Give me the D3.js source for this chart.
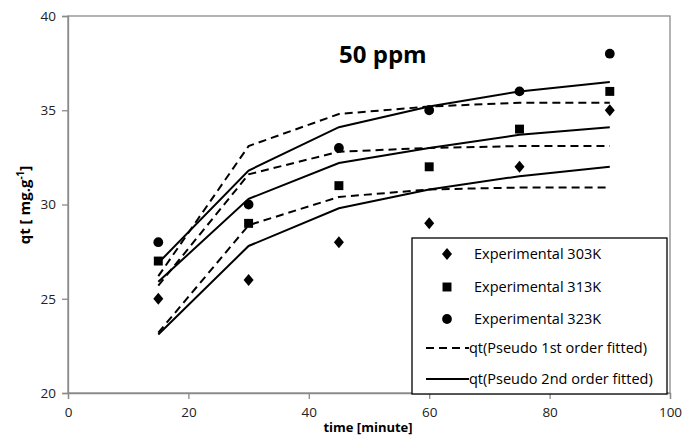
<!DOCTYPE html>
<html>
<head>
<meta charset="utf-8">
<script src="https://cdn.jsdelivr.net/npm/d3@7"></script>
<style>
  body { margin: 0; background: #fff; }
  svg text { font-family: "Open Sans", "Liberation Sans", sans-serif; }
</style>
</head>
<body>
<div id="graph"></div>
<script>
var times = [15, 30, 45, 60, 75, 90];

// experimental points
var exp303 = [25, 26, 28, 29, 32, 35];
var exp313 = [27, 29, 31, 32, 34, 36];
var exp323 = [28, 30, 33, 35, 36, 38];

// pseudo 1st order fitted (dashed)
var pfo303 = [23.2, 28.9, 30.4, 30.8, 30.9, 30.9];
var pfo313 = [25.7, 31.6, 32.8, 33.0, 33.1, 33.1];
var pfo323 = [26.2, 33.1, 34.8, 35.2, 35.4, 35.4];

// pseudo 2nd order fitted (solid)
var pso303 = [23.1, 27.8, 29.8, 30.8, 31.5, 32.0];
var pso313 = [25.9, 30.3, 32.2, 33.0, 33.7, 34.1];
var pso323 = [26.9, 31.8, 34.1, 35.2, 36.0, 36.5];

var xTicks = [0, 20, 40, 60, 80, 100];
var yTicks = [20, 25, 30, 35, 40];

var legendLabels = ["Experimental 303K", "Experimental 313K", "Experimental 323K",
  "qt(Pseudo 1st order fitted)", "qt(Pseudo 2nd order fitted)"];

var W = 699, H = 435;
var m = {left: 68, right: 29, top: 16, bottom: 42};
var w = W - m.left - m.right;
var h = H - m.top - m.bottom;

var svg = d3.select("#graph").append("svg")
  .attr("width", W)
  .attr("height", H);

var g = svg.append("g")
  .attr("transform", "translate(" + m.left + "," + m.top + ")");

var x = d3.scaleLinear().domain([0, 100]).range([0, w]);
var y = d3.scaleLinear().domain([20, 40]).range([h, 0]);

var axisColor = "#8a8a8a";

// frame (top and right)
g.append("rect")
  .attr("x", 0).attr("y", 0).attr("width", w).attr("height", h)
  .attr("fill", "none").attr("stroke", axisColor).attr("stroke-width", 1.3);

var xAxis = d3.axisBottom(x).tickValues(xTicks).tickSize(6).tickPadding(8);
var gx = g.append("g")
  .attr("class", "x axis")
  .attr("transform", "translate(0," + h + ")")
  .call(xAxis);

var yAxis = d3.axisLeft(y).tickValues(yTicks).tickSize(6).tickPadding(6);
var gy = g.append("g")
  .attr("class", "y axis")
  .call(yAxis);

[gx, gy].forEach(function(a) {
  a.select(".domain").attr("stroke", axisColor).attr("stroke-width", 1.3);
  a.selectAll(".tick line").attr("stroke", axisColor).attr("stroke-width", 1.3);
  a.selectAll(".tick text")
    .attr("fill", "#222")
    .style("font-size", "13.5px")
    .style("font-family", "'Open Sans', sans-serif");
});

var line = d3.line()
  .x(function(d, i) { return x(times[i]); })
  .y(function(d) { return y(d); });

[pfo303, pfo313, pfo323].forEach(function(s) {
  g.append("path")
    .attr("d", line(s))
    .attr("fill", "none")
    .attr("stroke", "#000")
    .attr("stroke-width", 2)
    .attr("stroke-dasharray", "8,5");
});

[pso303, pso313, pso323].forEach(function(s) {
  g.append("path")
    .attr("d", line(s))
    .attr("fill", "none")
    .attr("stroke", "#000")
    .attr("stroke-width", 2);
});

// diamond a bit wider than d3's default
var diamond = "M0,-6L5,0L0,6L-5,0Z";
var symSquare = d3.symbol().type(d3.symbolSquare).size(80);
var symCircle = d3.symbol().type(d3.symbolCircle).size(75);

function drawPoints(vals, sym) {
  g.selectAll(null)
    .data(vals)
    .enter().append("path")
    .attr("d", sym)
    .attr("fill", "#000")
    .attr("transform", function(d, i) {
      return "translate(" + x(times[i]) + "," + y(d) + ")";
    });
}
drawPoints(exp303, diamond);
drawPoints(exp313, symSquare);
drawPoints(exp323, symCircle);

// title
g.append("text")
  .attr("x", x(52.3))
  .attr("y", 47)
  .attr("text-anchor", "middle")
  .style("font-size", "24px")
  .style("font-weight", "bold")
  .style("font-family", "'Open Sans', sans-serif")
  .text("50 ppm");

// legend
var lg = svg.append("g").attr("transform", "translate(412,238)");
lg.append("rect")
  .attr("width", 255).attr("height", 156)
  .attr("fill", "#fff").attr("stroke", "#000").attr("stroke-width", 1.3);

var rowY = [16, 49, 81, 110, 141];
var legSyms = [diamond, symSquare, symCircle];
legendLabels.forEach(function(t, i) {
  if (i < 3) {
    lg.append("path")
      .attr("d", legSyms[i])
      .attr("fill", "#000")
      .attr("transform", "translate(35," + rowY[i] + ")");
  } else {
    lg.append("line")
      .attr("x1", 14).attr("x2", 57)
      .attr("y1", rowY[i]).attr("y2", rowY[i])
      .attr("stroke", "#000").attr("stroke-width", 2)
      .attr("stroke-dasharray", i == 3 ? "8,5" : null);
  }
  lg.append("text")
    .attr("x", i < 3 ? 62 : 57)
    .attr("y", rowY[i] + 5)
    .style("font-size", "14.5px")
    .style("font-family", "'Open Sans', sans-serif")
    .text(t);
});

// axis labels
svg.append("text")
  .attr("transform", "translate(30,205) rotate(-90)")
  .attr("text-anchor", "middle")
  .style("font-size", "15px")
  .style("font-weight", "bold")
  .style("font-family", "'Open Sans', sans-serif")
  .html("qt [ mg.g<tspan dy='-6' font-size='10px'>-1</tspan><tspan dy='6'>]</tspan>");

svg.append("text")
  .attr("x", 368)
  .attr("y", 432)
  .attr("text-anchor", "middle")
  .style("font-size", "13px")
  .style("font-weight", "bold")
  .style("font-family", "'Open Sans', sans-serif")
  .text("time [minute]");
</script>
</body>
</html>
